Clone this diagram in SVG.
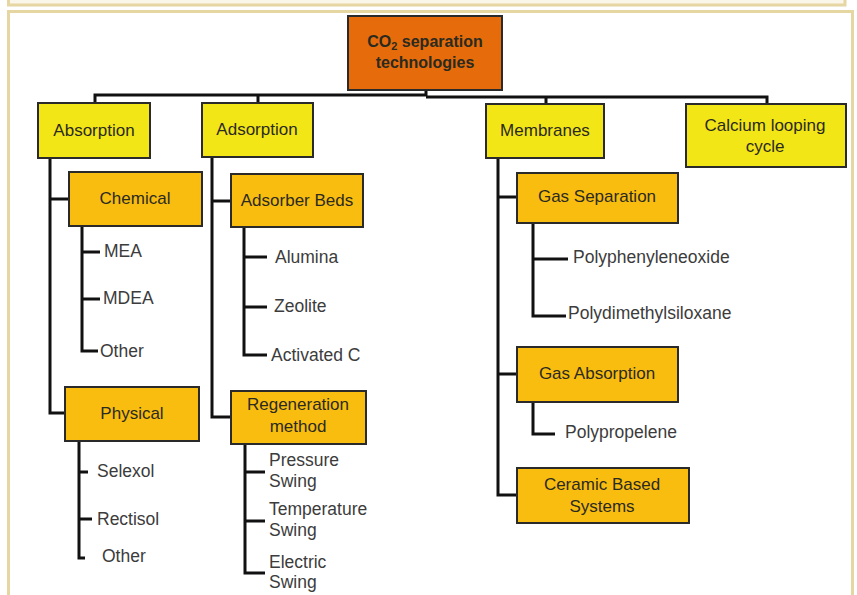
<svg xmlns="http://www.w3.org/2000/svg" width="857" height="595" viewBox="0 0 857 595">
<style>
text{font-family:"Liberation Sans",Arial,sans-serif;font-size:17px;fill:#2b2a20}
.c{text-anchor:middle}
.leaf{fill:#3c3c3c;font-size:17.5px}
.root rect{fill:#E66C0B;stroke:#2a2a2a;stroke-width:2}
.l1 rect{fill:#F3E616;stroke:#2a2a2a;stroke-width:2}
.l2 rect{fill:#F9BD10;stroke:#2a2a2a;stroke-width:2}
.root text{font-weight:bold;font-size:16px}
#connectors path{fill:none;stroke:#111;stroke-width:3}
</style>
<rect x="0" y="0" width="857" height="595" fill="#fff"/>
<rect x="8.5" y="-5" width="836.5" height="10" fill="#faf6ea" stroke="#e6d6a2" stroke-width="3"/>
<rect x="8.5" y="11.5" width="844" height="600" fill="#fff" stroke="#e6d6a2" stroke-width="3"/>

<g id="connectors">
<path d="M426 90V96M95 104V95H426M426 97H767V104M258 95V104M546 97V104"/>
<path d="M50 158V413H66M50 199H69"/>
<path d="M82 226V351H98M82 252H100M82 299H100"/>
<path d="M79 441V558H85M79 472H88M79 519H92"/>
<path d="M212 157V417H231M212 201H231"/>
<path d="M244 227V355H267M244 257H267M244 307H267"/>
<path d="M245 444V573H265M245 472H265M245 521H265"/>
<path d="M498 158V495H517M498 197H517M498 374H517"/>
<path d="M533 223V316H566M533 259H568"/>
<path d="M533 402V434H555"/>
</g>

<g id="root" class="root"><rect x="348" y="16" width="154" height="74"/>
<text class="c" x="425" y="47">CO<tspan font-size="11" dy="3">2</tspan><tspan dy="-3"> separation</tspan></text>
<text class="c" x="425" y="68">technologies</text></g>

<g id="absorption" class="l1"><rect x="38" y="103" width="112" height="55"/><text class="c" x="94" y="136">Absorption</text></g>
<g id="adsorption" class="l1"><rect x="202" y="103" width="111" height="54"/><text class="c" x="257" y="135">Adsorption</text></g>
<g id="membranes" class="l1"><rect x="486" y="104" width="118" height="54"/><text class="c" x="545" y="136">Membranes</text></g>
<g id="calcium" class="l1"><rect x="686" y="104" width="160" height="63"/><text class="c" x="765" y="131">Calcium looping</text><text class="c" x="765" y="152">cycle</text></g>

<g id="chemical" class="l2"><rect x="69" y="172" width="133" height="54"/><text class="c" x="135" y="204">Chemical</text></g>
<g id="physical" class="l2"><rect x="65" y="387" width="134" height="54"/><text class="c" x="132" y="419">Physical</text></g>
<g id="adsorber" class="l2"><rect x="231" y="174" width="132" height="53"/><text class="c" x="297" y="206">Adsorber Beds</text></g>
<g id="regeneration" class="l2"><rect x="231" y="391" width="135" height="53"/><text class="c" x="298" y="410">Regeneration</text><text class="c" x="298" y="432">method</text></g>
<g id="gassep" class="l2"><rect x="517" y="173" width="161" height="50"/><text class="c" x="597" y="202">Gas Separation</text></g>
<g id="gasabs" class="l2"><rect x="517" y="347" width="161" height="55"/><text class="c" x="597" y="379">Gas Absorption</text></g>
<g id="ceramic" class="l2"><rect x="517" y="468" width="172" height="55"/><text class="c" x="602" y="490">Ceramic Based</text><text class="c" x="602" y="512">Systems</text></g>

<g id="mea"><text class="leaf" x="104" y="257">MEA</text></g>
<g id="mdea"><text class="leaf" x="103" y="304">MDEA</text></g>
<g id="other1"><text class="leaf" x="100" y="357">Other</text></g>
<g id="selexol"><text class="leaf" x="97" y="477">Selexol</text></g>
<g id="rectisol"><text class="leaf" x="97" y="525">Rectisol</text></g>
<g id="other2"><text class="leaf" x="102" y="562">Other</text></g>
<g id="alumina"><text class="leaf" x="275" y="263">Alumina</text></g>
<g id="zeolite"><text class="leaf" x="274" y="312">Zeolite</text></g>
<g id="activated"><text class="leaf" x="271" y="361">Activated C</text></g>
<g id="pressure"><text class="leaf" x="269" y="466">Pressure</text><text class="leaf" x="269" y="487">Swing</text></g>
<g id="temperature"><text class="leaf" x="269" y="515">Temperature</text><text class="leaf" x="269" y="536">Swing</text></g>
<g id="electric"><text class="leaf" x="269" y="568">Electric</text><text class="leaf" x="269" y="588">Swing</text></g>
<g id="ppo"><text class="leaf" x="573" y="263">Polyphenyleneoxide</text></g>
<g id="pdms"><text class="leaf" x="568" y="319">Polydimethylsiloxane</text></g>
<g id="pp"><text class="leaf" x="565" y="438">Polypropelene</text></g>
</svg>
